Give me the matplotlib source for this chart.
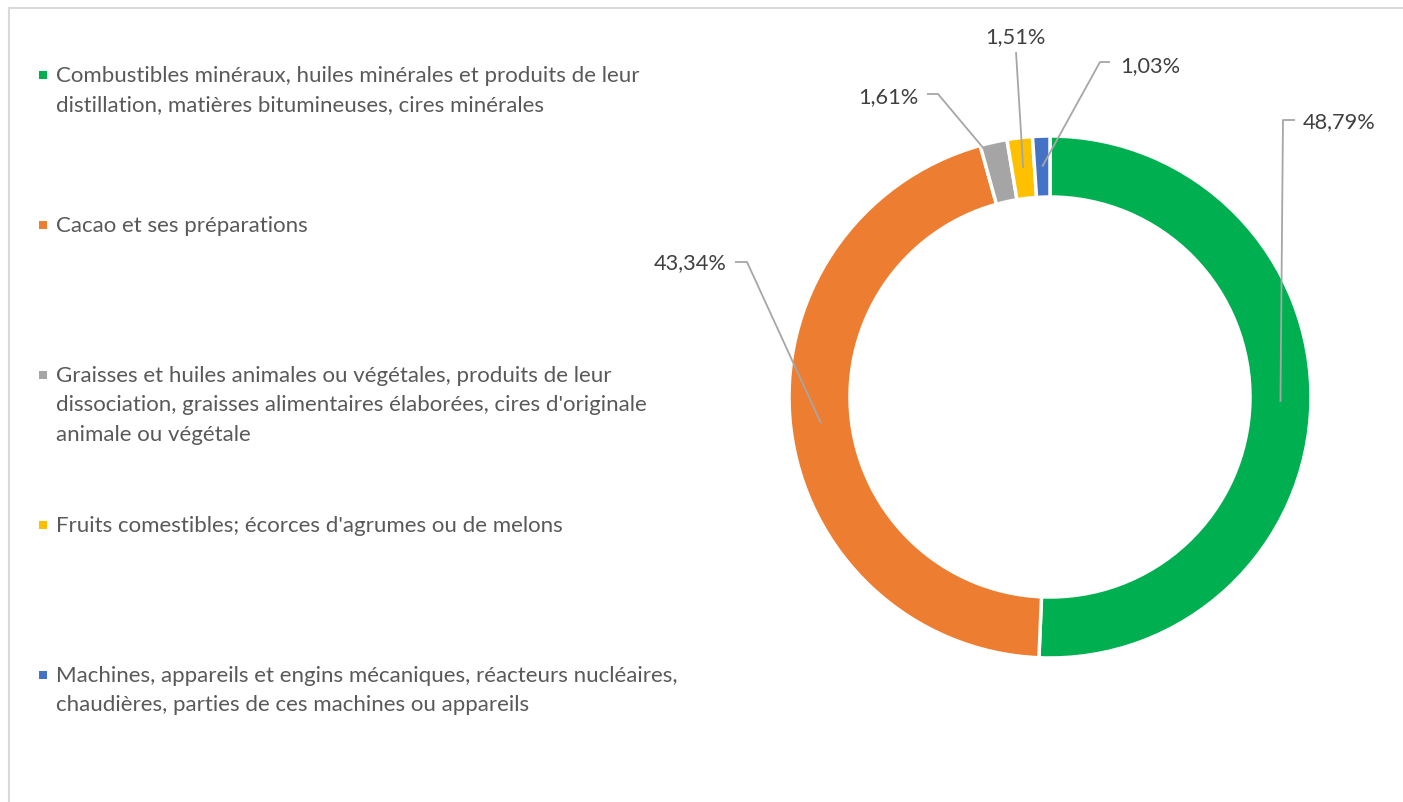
import matplotlib
matplotlib.use("Agg")
from matplotlib import pyplot as plt
from matplotlib.patches import Rectangle
import numpy as np

# data
categories = [
    "Combustibles minéraux, huiles minérales et produits de leur\ndistillation, matières bitumineuses, cires minérales",
    "Cacao et ses préparations",
    "Graisses et huiles animales ou végétales, produits de leur\ndissociation, graisses alimentaires élaborées, cires d'originale\nanimale ou végétale",
    "Fruits comestibles; écorces d'agrumes ou de melons",
    "Machines, appareils et engins mécaniques, réacteurs nucléaires,\nchaudières, parties de ces machines ou appareils",
]
values = [48.79, 43.34, 1.61, 1.51, 1.03]
value_labels = ["48,79%", "43,34%", "1,61%", "1,51%", "1,03%"]
colors = ["#00B050", "#ED7D31", "#A5A5A5", "#FFC000", "#4472C4"]

W, H = 1403, 803
FONT = "Lato"

fig = plt.figure(figsize=(W / 100, H / 100), dpi=100)
ax = fig.add_axes([0, 0, 1, 1])

# donut
cx, cy, R = 1050, 398, 261
ring = 61
wedges, _ = ax.pie(values, colors=colors, startangle=-90, counterclock=True,
                   center=(cx, cy), radius=R, frame=True,
                   wedgeprops=dict(width=ring, edgecolor="white", linewidth=2.5))
ax.set_xlim(0, W)
ax.set_ylim(H, 0)  # screen coords, y down
ax.set_aspect("equal")
ax.axis("off")

# chart frame
ax.plot([9, W], [9, 9], color="#D9D9D9", lw=1.5)
ax.plot([9, 9], [9, H], color="#D9D9D9", lw=1.5)

# data labels with leader lines
label_pos = [(1303, 122, "left"), (727, 263, "right"), (918, 97, "right"),
             (1015, 37, "center"), (1120, 66, "left")]
leader_start = [(1295, 121), (735, 263), (927, 95), (1016, 53), (1110, 63)]
leader_elbow = [(1283, 121), (747, 263), (938, 95), None, (1100, 63)]
anchor_frac = [0.5, 0.5, 0.1, 0.5, 0.5]
anchor_r = [R - ring / 2, R - ring / 2, R - 4, R - ring / 2, R - ring / 2]

for i, w in enumerate(wedges):
    ang = np.deg2rad(w.theta1 + anchor_frac[i] * (w.theta2 - w.theta1))
    pts = [leader_start[i]]
    if leader_elbow[i] is not None:
        pts.append(leader_elbow[i])
    pts.append((cx + anchor_r[i] * np.cos(ang), cy + anchor_r[i] * np.sin(ang)))
    ax.plot([p[0] for p in pts], [p[1] for p in pts], color="#A6A6A6", lw=1.3,
            solid_capstyle="butt", zorder=5)
    x, y, ha = label_pos[i]
    ax.text(x, y, value_labels[i], ha=ha, va="center", fontsize=15.7,
            color="#404040", family=FONT)

# legend
for i, cat in enumerate(categories):
    y0 = 76 + 150 * i
    ax.add_patch(Rectangle((39, y0 - 4), 8, 8, color=colors[i], lw=0))
    for k, line in enumerate(cat.split("\n")):
        ax.text(56, y0 + 29.5 * k, line, ha="left", va="center", fontsize=16,
                color="#595959", family=FONT)

fig.savefig("out.png", dpi=100, facecolor="white")
